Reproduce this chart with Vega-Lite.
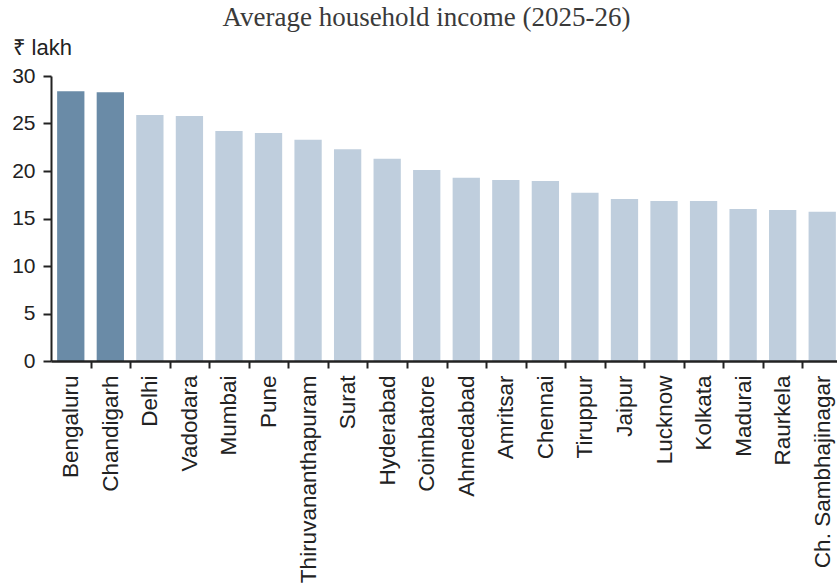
{
  "$schema": "https://vega.github.io/schema/vega-lite/v6.json",
  "width": 791,
  "height": 285,
  "autosize": {"type": "none"},
  "padding": {"left": 51, "top": 76, "right": 0, "bottom": 227},
  "background": "white",
  "title": {
    "text": "Average household income (2025-26)",
    "font": "Liberation Serif",
    "fontSize": 27,
    "fontWeight": "normal",
    "color": "#3a3a3a",
    "anchor": "middle",
    "frame": "group",
    "dx": -20
  },
  "data": {
    "values": [
      {"city": "Bengaluru", "income": 28.4, "hl": "y"},
      {"city": "Chandigarh", "income": 28.3, "hl": "y"},
      {"city": "Delhi", "income": 25.9, "hl": "n"},
      {"city": "Vadodara", "income": 25.8, "hl": "n"},
      {"city": "Mumbai", "income": 24.2, "hl": "n"},
      {"city": "Pune", "income": 24.0, "hl": "n"},
      {"city": "Thiruvananthapuram", "income": 23.3, "hl": "n"},
      {"city": "Surat", "income": 22.3, "hl": "n"},
      {"city": "Hyderabad", "income": 21.3, "hl": "n"},
      {"city": "Coimbatore", "income": 20.1, "hl": "n"},
      {"city": "Ahmedabad", "income": 19.3, "hl": "n"},
      {"city": "Amritsar", "income": 19.05, "hl": "n"},
      {"city": "Chennai", "income": 18.95, "hl": "n"},
      {"city": "Tiruppur", "income": 17.7, "hl": "n"},
      {"city": "Jaipur", "income": 17.05, "hl": "n"},
      {"city": "Lucknow", "income": 16.85, "hl": "n"},
      {"city": "Kolkata", "income": 16.85, "hl": "n"},
      {"city": "Madurai", "income": 16.0, "hl": "n"},
      {"city": "Raurkela", "income": 15.9, "hl": "n"},
      {"city": "Ch. Sambhajinagar", "income": 15.7, "hl": "n"}
    ]
  },
  "mark": {"type": "bar"},
  "encoding": {
    "x": {
      "field": "city",
      "type": "nominal",
      "sort": null,
      "scale": {"paddingInner": 0.31, "paddingOuter": 0.155},
      "axis": {
        "title": null,
        "zindex": 1,
        "labelAngle": -90,
        "labelAlign": "right",
        "labelBaseline": "middle",
        "labelFont": "Liberation Sans",
        "labelFontSize": 22.5,
        "labelColor": "#222222",
        "labelPadding": 7,
        "labelLimit": 400,
        "tickOffset": 19.78,
        "labelOffset": -19.78,
        "tickSize": 7,
        "tickWidth": 2,
        "tickColor": "#222222",
        "domainColor": "#222222",
        "domainWidth": 2.5
      }
    },
    "y": {
      "field": "income",
      "type": "quantitative",
      "scale": {"domain": [0, 30], "nice": false},
      "axis": {
        "title": "₹ lakh",
        "zindex": 1,
        "titleAngle": 0,
        "titleAlign": "left",
        "titleBaseline": "alphabetic",
        "titleX": -39,
        "titleY": -22,
        "titleFont": "Liberation Sans",
        "titleFontSize": 22,
        "titleFontWeight": "normal",
        "titleColor": "#222222",
        "values": [0, 5, 10, 15, 20, 25, 30],
        "labelFont": "Liberation Sans",
        "labelFontSize": 21,
        "labelColor": "#222222",
        "labelPadding": 8,
        "tickSize": 8,
        "tickWidth": 2,
        "tickColor": "#222222",
        "domainColor": "#222222",
        "domainWidth": 2,
        "grid": false
      }
    },
    "color": {
      "field": "hl",
      "type": "nominal",
      "scale": {"domain": ["y", "n"], "range": ["#6a8ba7", "#bfcedd"]},
      "legend": null
    }
  },
  "config": {"view": {"stroke": null}}
}
